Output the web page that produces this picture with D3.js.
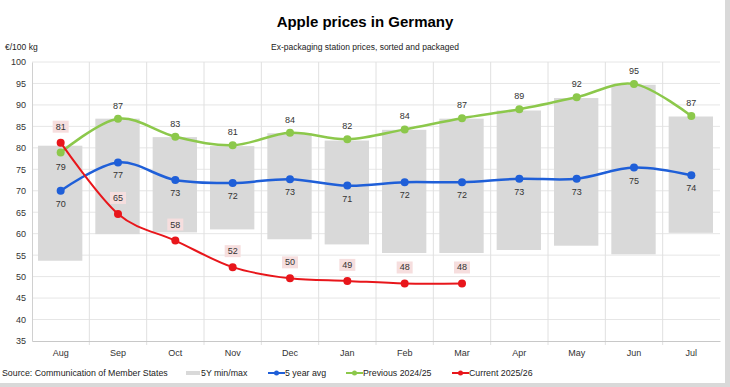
<!DOCTYPE html>
<html>
<head>
<meta charset="utf-8">
<script src="https://cdn.jsdelivr.net/npm/d3@7"></script>
<style>
  body { margin: 0; background: #fff; }
  svg text { font-family: "Liberation Sans", Arial, sans-serif; }
</style>
</head>
<body>
<script>
// chart data

var months = ["Aug", "Sep", "Oct", "Nov", "Dec", "Jan", "Feb", "Mar", "Apr", "May", "Jun", "Jul"];
var rangeMin = [53.7, 59.9, 60.3, 61.0, 58.7, 57.5, 55.5, 55.5, 56.2, 57.2, 55.2, 60.2];
var rangeMax = [80.5, 86.8, 82.5, 80.4, 83.4, 81.7, 84.2, 86.8, 88.7, 91.6, 94.7, 87.3];
var avg5y = [70.0, 76.6, 72.5, 71.8, 72.7, 71.2, 72.0, 72.0, 72.8, 72.8, 75.4, 73.6];
var prev = [78.9, 86.8, 82.6, 80.6, 83.5, 82.0, 84.3, 86.9, 89.0, 91.8, 94.9, 87.4];
var curr = [81.2, 64.6, 58.4, 52.2, 49.6, 49.0, 48.4, 48.4];
var yTicks = d3.range(35, 101, 5);

var W = 730, H = 387;

var svg = d3.select("body").append("svg")
    .attr("width", W).attr("height", H);

svg.append("rect").attr("x", 0).attr("y", 0).attr("width", W).attr("height", H).attr("fill", "#fff");
// frame strips right / bottom
svg.append("rect").attr("x", 725).attr("y", 0).attr("width", 5).attr("height", H).attr("fill", "#d9d9d9");
svg.append("rect").attr("x", 0).attr("y", 383).attr("width", W).attr("height", 4).attr("fill", "#d9d9d9");

var x = d3.scaleBand().domain(months).range([32, 720]);
var y = d3.scaleLinear().domain([35, 100]).range([341, 62]);
var cx = function(i) { return x(months[i]) + x.bandwidth() / 2; };

// titles
svg.append("text").attr("x", 365).attr("y", 27).attr("text-anchor", "middle")
    .attr("font-size", 15).attr("font-weight", "bold").attr("fill", "#000").text("Apple prices in Germany");
svg.append("text").attr("x", 365).attr("y", 50).attr("text-anchor", "middle")
    .attr("font-size", 8.5).attr("fill", "#222").text("Ex-packaging station prices, sorted and packaged");
svg.append("text").attr("x", 5).attr("y", 50)
    .attr("font-size", 8.5).attr("fill", "#222").text("€/100 kg");

// grid
var grid = svg.append("g");
grid.selectAll("line.h").data(yTicks.slice(1)).enter().append("line")
    .attr("x1", 32).attr("x2", 720)
    .attr("y1", function(d) { return y(d); }).attr("y2", function(d) { return y(d); })
    .attr("stroke", "#e6e6e6").attr("stroke-width", 1);
grid.selectAll("line.v").data(months.slice(1)).enter().append("line")
    .attr("x1", function(d) { return x(d); }).attr("x2", function(d) { return x(d); })
    .attr("y1", 62).attr("y2", 345)
    .attr("stroke", "#e0e0e0").attr("stroke-width", 1);

// bars 5Y min/max
svg.append("g").selectAll("rect").data(months).enter().append("rect")
    .attr("x", function(d) { return x(d) + 6; })
    .attr("width", x.bandwidth() - 13)
    .attr("y", function(d, i) { return y(rangeMax[i]); })
    .attr("height", function(d, i) { return y(rangeMin[i]) - y(rangeMax[i]); })
    .attr("fill", "#d9d9d9");

// axes
var yAxis = svg.append("g").attr("transform", "translate(32,0)")
    .call(d3.axisLeft(y).tickValues(yTicks).tickSize(0).tickPadding(6));
yAxis.select(".domain").attr("stroke", "#d0d0d0");
yAxis.selectAll("text").attr("font-size", 9).attr("fill", "#333")
    .attr("font-family", "Liberation Sans, Arial, sans-serif");

var xAxis = svg.append("g").attr("transform", "translate(0,341)")
    .call(d3.axisBottom(x).tickSize(0).tickPadding(9));
xAxis.select(".domain").attr("stroke", "#c8c8c8");
xAxis.selectAll("text").attr("font-size", 9).attr("fill", "#333")
    .attr("font-family", "Liberation Sans, Arial, sans-serif");

// lines
var line = d3.line()
    .x(function(d, i) { return cx(i); })
    .y(function(d) { return y(d); })
    .curve(d3.curveCardinal.tension(0));

function drawSeries(data, color, width) {
  var g = svg.append("g");
  g.append("path").datum(data).attr("d", line)
      .attr("fill", "none").attr("stroke", color).attr("stroke-width", width);
  g.selectAll("circle").data(data).enter().append("circle")
      .attr("cx", function(d, i) { return cx(i); })
      .attr("cy", function(d) { return y(d); })
      .attr("r", 4).attr("fill", color);
  return g;
}

var gAvg = drawSeries(avg5y, "#1f5fd8", 2.5);
var gPrev = drawSeries(prev, "#8cc84b", 2.5);
var gCurr = drawSeries(curr, "#e8161b", 2);

// labels
function labels(g, data, dy) {
  g.selectAll("text").data(data).enter().append("text")
      .attr("x", function(d, i) { return cx(i); })
      .attr("y", function(d, i) { return y(d) + (typeof dy === "function" ? dy(i) : dy); })
      .attr("text-anchor", "middle").attr("font-size", 9).attr("fill", "#333")
      .text(function(d) { return Math.round(d); });
}
labels(gAvg, avg5y, 16);
labels(gPrev, prev, function(i) { return i === 0 ? 17 : -10; });

var currLab = gCurr.selectAll("g.lab").data(curr).enter().append("g")
    .attr("transform", function(d, i) { return "translate(" + cx(i) + "," + (y(d) - 13) + ")"; });
currLab.append("rect").attr("x", -8).attr("y", -9).attr("width", 16).attr("height", 12)
    .attr("fill", "#f6dede");
currLab.append("text").attr("text-anchor", "middle").attr("font-size", 9).attr("fill", "#333")
    .text(function(d) { return Math.round(d); });

// footer + legend
svg.append("text").attr("x", 2).attr("y", 376).attr("font-size", 8.8).attr("fill", "#222")
    .text("Source: Communication of Member States");

var legend = [
  { name: "5Y min/max", type: "bar", color: "#d9d9d9", x: 186 },
  { name: "5 year avg", type: "line", color: "#1f5fd8", x: 268 },
  { name: "Previous 2024/25", type: "line", color: "#8cc84b", x: 346 },
  { name: "Current 2025/26", type: "line", color: "#e8161b", x: 452 }
];
var lg = svg.append("g").selectAll("g").data(legend).enter().append("g")
    .attr("transform", function(d) { return "translate(" + d.x + ",373)"; });
lg.filter(function(d) { return d.type === "bar"; }).append("rect")
    .attr("x", 0).attr("y", -2).attr("width", 14).attr("height", 4).attr("fill", function(d) { return d.color; });
lg.filter(function(d) { return d.type === "line"; }).append("line")
    .attr("x1", 0).attr("x2", 17).attr("y1", 0).attr("y2", 0)
    .attr("stroke", function(d) { return d.color; }).attr("stroke-width", 2);
lg.filter(function(d) { return d.type === "line"; }).append("circle")
    .attr("cx", 8.5).attr("cy", 0).attr("r", 2.5).attr("fill", function(d) { return d.color; });
lg.append("text").attr("x", function(d) { return d.type === "bar" ? 15 : 17; }).attr("y", 3)
    .attr("font-size", 8.8).attr("fill", "#222").text(function(d) { return d.name; });
</script>
</body>
</html>
